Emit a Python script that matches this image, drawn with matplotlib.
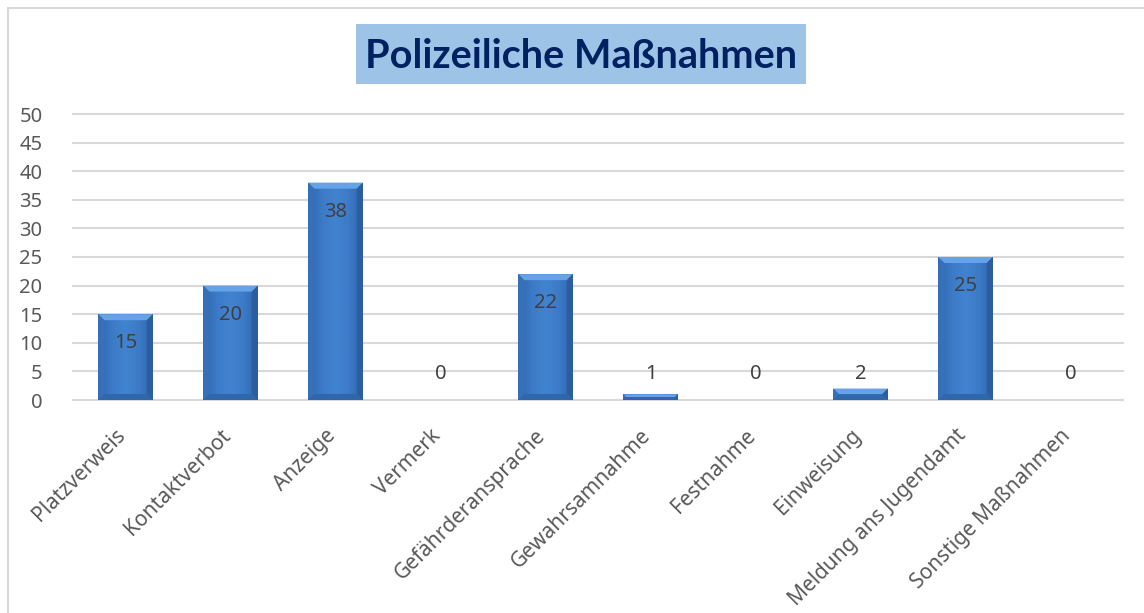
import matplotlib
matplotlib.use('Agg')
import matplotlib.pyplot as plt
import numpy as np
from matplotlib.patches import Rectangle, Polygon
from matplotlib.colors import LinearSegmentedColormap
from matplotlib.transforms import IdentityTransform, ScaledTranslation

# ---- data ----
categories = ["Platzverweis", "Kontaktverbot", "Anzeige", "Vermerk",
              "Gefährderansprache", "Gewahrsamnahme", "Festnahme",
              "Einweisung", "Meldung ans Jugendamt", "Sonstige Maßnahmen"]
values = [15, 20, 38, 0, 22, 1, 0, 2, 25, 0]
yticks = [0, 5, 10, 15, 20, 25, 30, 35, 40, 45, 50]
title = "Polizeiliche Maßnahmen"

FONT = 'Noto Sans'
W, H = 1144, 613
fig = plt.figure(figsize=(W / 100, H / 100), dpi=100)
fig.patch.set_facecolor('white')

# outer border
fig.add_artist(Rectangle((8 / W, -0.02), 1.05, 1 - 8 / H + 0.02,
                         transform=fig.transFigure, fill=False,
                         edgecolor='#D9D9D9', lw=1.5))

# title box
fig.add_artist(Rectangle((356 / W, 1 - 84 / H), 450 / W, 60 / H,
                         transform=fig.transFigure, facecolor='#9DC3E6',
                         edgecolor='none'))
fig.text(581 / W, 1 - 57 / H, title, ha='center', va='center',
         fontsize=28.5, fontweight='bold', color='#002060', family='Lato')

ax = fig.add_axes([73 / W, 1 - 400 / H, 1050 / W, 286 / H])
x = np.arange(len(categories))
bars = ax.bar(x, values, width=0.52, color='#3B78C4', zorder=2)

ax.set_xlim(-0.5, len(categories) - 0.5)
ax.set_ylim(0, 50)
ax.set_yticks(yticks)
ax.set_xticks(x)
ax.tick_params(axis='both', length=0)
ax.tick_params(axis='y', pad=22)
ax.tick_params(axis='x', pad=14)
ax.set_xticklabels(categories, rotation=45, ha='right', va='center',
                   rotation_mode='anchor', fontsize=15, color='#595959',
                   family=FONT)
for lab in ax.get_yticklabels():
    lab.set_fontsize(14.5)
    lab.set_color('#595959')
    lab.set_family(FONT)
for s in ax.spines.values():
    s.set_visible(False)
ax.set_axisbelow(True)
ax.yaxis.grid(True, color='#D9D9D9', lw=1.5)
for gl in ax.get_ygridlines():
    gl.set_clip_on(False)

fig.canvas.draw()
shift = ScaledTranslation(-3 / 100, -13 / 100, fig.dpi_scale_trans)
for lab in ax.get_xticklabels():
    lab.set_transform(lab.get_transform() + shift)

cmap = LinearSegmentedColormap.from_list(
    'b', ['#2F65AC', '#3C7AC6', '#4283D0', '#3C7AC6', '#2F65AC'])
grad = np.linspace(0, 1, 200).reshape(1, -1)
for b, v in zip(bars, values):
    if v <= 0:
        continue
    bx, by, bw, bh = b.get_x(), b.get_y(), b.get_width(), b.get_height()
    im = ax.imshow(grad, cmap=cmap, aspect='auto',
                   extent=(bx, bx + bw, by, by + bh), zorder=2.1)
    im.set_clip_path(b)
    (x0, y0), (x1, y1) = ax.transData.transform([(bx, by), (bx + bw, by + bh)])
    bv = min(6, (y1 - y0) / 2)
    tr = IdentityTransform()
    ax.add_patch(Polygon([(x0, y1), (x1, y1), (x1 - bv, y1 - bv), (x0 + bv, y1 - bv)],
                         closed=True, transform=tr, facecolor='#66A2E6',
                         edgecolor='none', zorder=2.2))
    ax.add_patch(Polygon([(x0, y0), (x0, y1), (x0 + bv, y1 - bv), (x0 + bv, y0 + bv)],
                         closed=True, transform=tr, facecolor='#3670B8',
                         edgecolor='none', zorder=2.2))
    ax.add_patch(Polygon([(x1, y0), (x1, y1), (x1 - bv, y1 - bv), (x1 - bv, y0 + bv)],
                         closed=True, transform=tr, facecolor='#2B5D9F',
                         edgecolor='none', zorder=2.2))
    ax.add_patch(Polygon([(x0, y0), (x1, y0), (x1 - bv, y0 + bv), (x0 + bv, y0 + bv)],
                         closed=True, transform=tr, facecolor='#3066AA',
                         edgecolor='none', zorder=2.2))

for i, v in enumerate(values):
    if v >= 5:
        ax.annotate(str(v), (i, v), xytext=(0, -21), textcoords='offset points',
                    ha='center', va='center', fontsize=14.5, color='#404040',
                    family=FONT, zorder=3)
    else:
        ax.annotate(str(v), (i, 0), xytext=(0, 19), textcoords='offset points',
                    ha='center', va='center', fontsize=14.5, color='#404040',
                    family=FONT, zorder=3)

fig.savefig('out.png', dpi=100)
